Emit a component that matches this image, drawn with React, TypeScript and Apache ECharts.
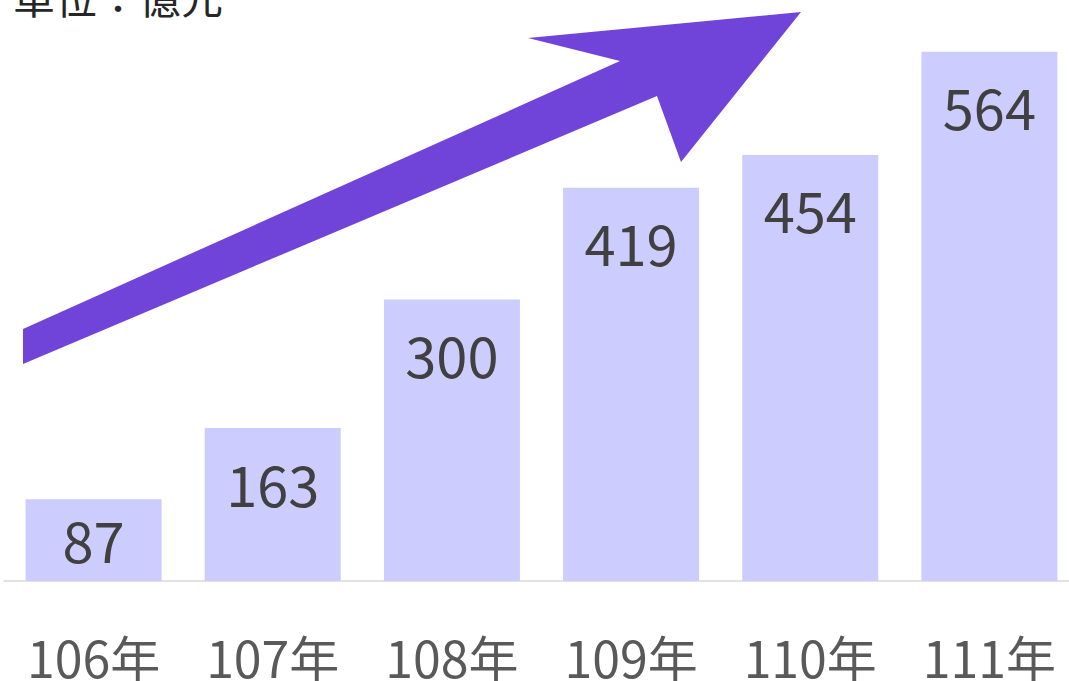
import React, { useEffect, useRef } from "react";
import * as echarts from "echarts";

const categories = ["106年", "107年", "108年", "109年", "110年", "111年"];
const values = [87, 163, 300, 419, 454, 564];
const unitLabel = "單位：億元";

const FONT = "'Noto Sans CJK TC', 'Noto Sans', sans-serif";

export default function App() {
  const ref = useRef<HTMLDivElement>(null);
  useEffect(() => {
    if (!ref.current) return;
    const chart = echarts.init(ref.current, null, { renderer: "svg" });
    chart.setOption({
      animation: false,
      backgroundColor: "#ffffff",
      grid: { left: 4, right: 6, top: 18, bottom: 100, containLabel: false },
      xAxis: {
        type: "category",
        data: categories,
        axisLine: { show: true, lineStyle: { color: "#D9D9D9", width: 1.5 } },
        axisTick: { show: false },
        axisLabel: { color: "#595959", fontSize: 50, fontFamily: FONT, margin: 50 },
      },
      yAxis: {
        type: "value",
        min: 0,
        max: 600,
        show: false,
        splitLine: { show: false },
      },
      series: [
        {
          type: "bar",
          data: values.map((v, i) =>
            i === 0 ? { value: v, label: { distance: 11 } } : v
          ),
          barWidth: 136,
          itemStyle: { color: "#CCCCFF" },
          label: {
            show: true,
            position: "insideTop",
            distance: 26,
            color: "#404040",
            fontSize: 56,
            fontFamily: FONT,
          },
        },
      ],
      graphic: [
        {
          type: "polygon",
          shape: {
            points: [
              [23, 329],
              [620, 61],
              [528, 38],
              [801, 12],
              [681, 162],
              [657, 96],
              [23, 364],
            ],
          },
          style: { fill: "#7044D8" },
          z: 10,
        },
        {
          type: "text",
          x: 13,
          y: 16,
          style: {
            text: unitLabel,
            fill: "#262626",
            font: `42px ${FONT}`,
            textVerticalAlign: "bottom",
          },
        },
      ],
    });
    return () => chart.dispose();
  }, []);
  return (
    <div
      style={{
        position: "absolute",
        left: 0,
        top: 0,
        width: 1069,
        height: 681,
        overflow: "hidden",
      }}
    >
      <div ref={ref} style={{ width: 1085, height: 681 }} />
    </div>
  );
}
